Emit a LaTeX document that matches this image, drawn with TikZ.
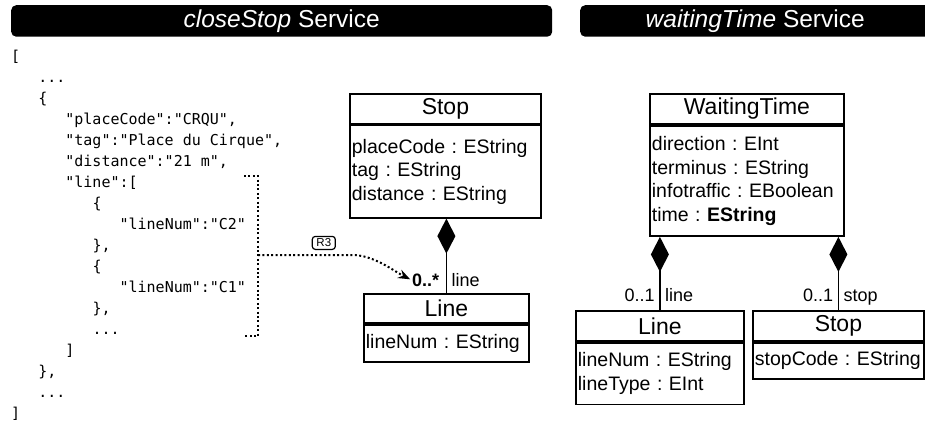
\documentclass[tikz,border=0pt]{standalone}
\usepackage{fontspec}
\setmainfont{Liberation Sans}
\setmonofont{DejaVu Sans Mono}
\usetikzlibrary{arrows.meta,positioning}
\frenchspacing
\hyphenpenalty=10000
\exhyphenpenalty=10000
\newcommand{\jsind}{\hspace*{27.1pt}}
\tikzset{
    banner/.style={fill=black, text=white, rounded corners=5pt, inner sep=0pt, anchor=north west, font=\fontsize{24.5}{24.5}\selectfont},
    clshead/.style={draw, line width=1.8pt, inner sep=0pt, anchor=north west, font=\fontsize{23}{23}\selectfont},
    clsbody/.style={draw, line width=1.8pt, inner xsep=2pt, inner ysep=0pt, anchor=north west, align=left, font=\fontsize{19.5}{23.5}\selectfont},
    mult/.style={inner sep=0pt, text depth=0pt, font=\fontsize{18}{18}\selectfont},
    comp/.style={line width=1.8pt, -{Diamond[length=35pt,width=18pt]}},
    rulebox/.style={draw, solid, line width=1.2pt, rounded corners=3pt, inner sep=0pt, minimum width=23pt, minimum height=13pt, font=\fontsize{11.5}{11.5}\selectfont},
    json/.style={inner sep=0pt, anchor=north west, align=left, font=\ttfamily\fontsize{15}{21}\selectfont},
    dots/.style={line width=2pt, dash pattern=on 2pt off 2.4pt},
}

\begin{document}
\begin{tikzpicture}[x=1pt, y=-1pt]
    \useasboundingbox (0,0) rectangle (925,420);
    \clip (0,0) rectangle (925,420);
    % headers
    \node [banner, minimum width=541pt, minimum height=31.5pt] (hdrcs) at (11,5) {\textit{closeStop} Service};
    \node [banner, minimum width=350pt, minimum height=31.5pt] (hdrwt) at (580,5) {\textit{waitingTime} Service};
    % json answer
    \node [json] (json) at (11,49.5) {[\\
        \jsind...\\
        \jsind\{\\
        \jsind\jsind"placeCode":"CRQU",\\
        \jsind\jsind"tag":"Place du Cirque",\\
        \jsind\jsind"distance":"21 m",\\
        \jsind\jsind"line":[\\
        \jsind\jsind\jsind\{\\
        \jsind\jsind\jsind\jsind"lineNum":"C2"\\
        \jsind\jsind\jsind\},\\
        \jsind\jsind\jsind\{\\
        \jsind\jsind\jsind\jsind"lineNum":"C1"\\
        \jsind\jsind\jsind\},\\
        \jsind\jsind\jsind...\\
        \jsind\jsind]\\
        \jsind\},\\
        \jsind...\\
        ]};
    % closeStop model
    \node [clshead, minimum width=191pt, minimum height=30pt] (lstop) at (349,92.7) {Stop};
    \node [clsbody, text width=187pt, minimum height=92.3pt] (lstopb) at (lstop.south west) {placeCode : EString\\tag : EString\\distance : EString};
    \node [clshead, minimum width=165pt, minimum height=29.6pt] (lline) at (363,292.7) {Line};
    \node [clsbody, text width=161pt, minimum height=37pt] (llineb) at (lline.south west) {lineNum : EString};
    \draw [comp] (lline.north) -- (lline.north |- lstopb.south);
    \node [mult, above left=6pt and 7pt of lline.north] (lmult) {\textbf{0..*}};
    \node [mult, above right=6pt and 5pt of lline.north] (lrole) {line};
    % waitingTime model
    \node [clshead, minimum width=194pt, minimum height=30.6pt] (wtime) at (649,92.7) {WaitingTime};
    \node [clsbody, text width=190pt, minimum height=110pt] (wtimeb) at (wtime.south west) {direction : EInt\\terminus : EString\\infotraffic : EBoolean\\time : \textbf{EString}};
    \node [clshead, minimum width=168pt, minimum height=30pt] (wline) at (575,310) {Line};
    \node [clsbody, text width=164pt, minimum height=61.7pt] (wlineb) at (wline.south west) {lineNum : EString\\lineType : EInt};
    \node [clshead, minimum width=171pt, minimum height=30pt] (wstop) at (752,310) {Stop};
    \node [clsbody, text width=167pt, minimum height=36pt] (wstopb) at (wstop.south west) {stopCode : EString};
    \draw [comp] (wline.north) -- (wline.north |- wtimeb.south);
    \draw [comp] (wstop.north) -- (wstop.north |- wtimeb.south);
    \node [mult, above left=8pt and 5pt of wline.north] (wlmult) {0..1};
    \node [mult, above right=8pt and 5pt of wline.north] (wlrole) {line};
    \node [mult, above left=8pt and 5pt of wstop.north] (wsmult) {0..1};
    \node [mult, above right=8pt and 5pt of wstop.north] (wsrole) {stop};
    % mapping of the line array
    \draw [dots] (244,176) -- (258,176) -- (258,336) -- (244,336);
    \coordinate (brk) at (258,255);
    \coordinate (bend) at (352,255);
    \draw [dots, shorten >=2pt, -{Stealth[length=12pt,width=9pt]}] (brk) -- (bend) node [rulebox, pos=0.7, above=5pt] (r3) {R3} .. controls +(22,0) and +(-18,-9) .. (lmult.west);
\end{tikzpicture}
\end{document}
